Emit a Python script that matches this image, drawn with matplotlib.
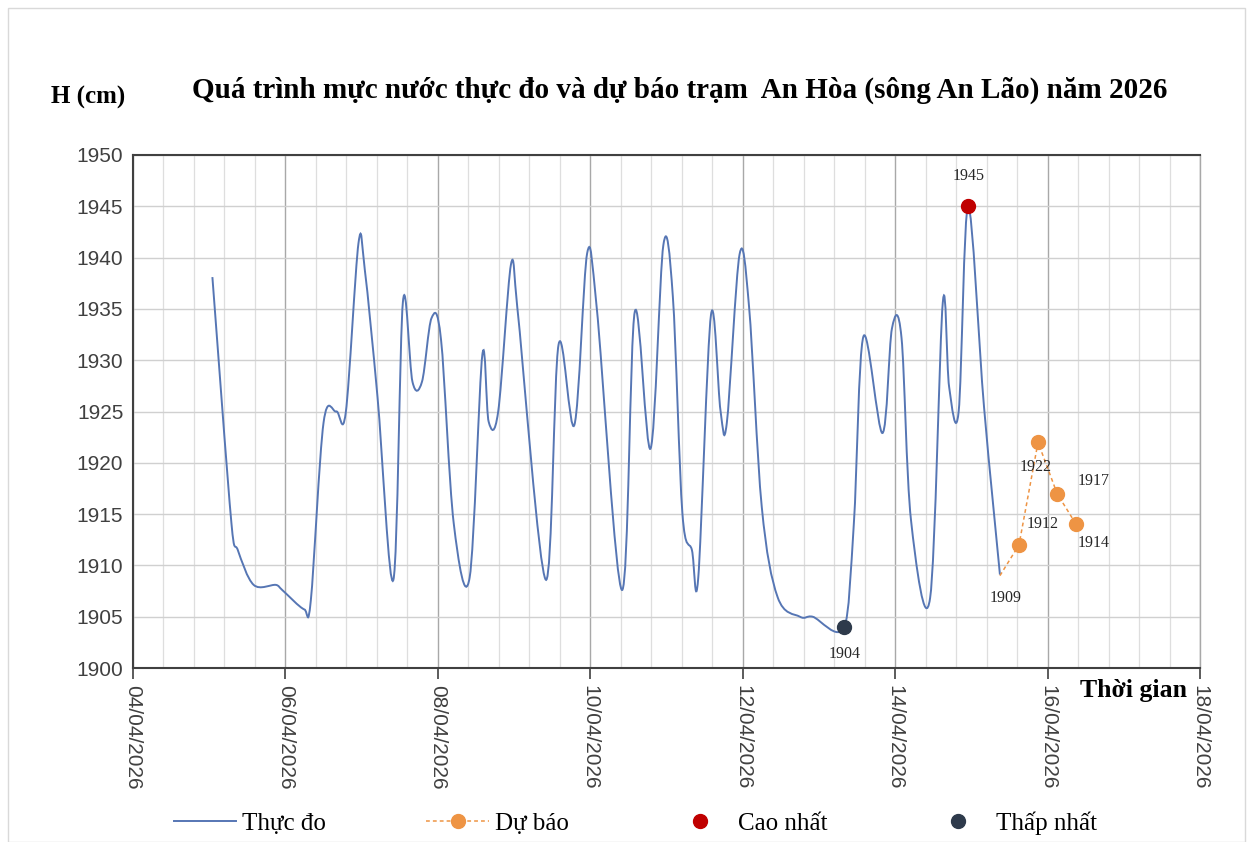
import matplotlib
matplotlib.use("Agg")
import matplotlib.pyplot as plt
import matplotlib.dates as mdates
from matplotlib.lines import Line2D
from matplotlib.path import Path
from matplotlib.patches import PathPatch, Rectangle
from matplotlib.ticker import FixedLocator, NullFormatter
import numpy as np
import pandas as pd

obs_time = [
    "2026-04-05 01:00", "2026-04-05 07:00", "2026-04-05 09:00", "2026-04-05 14:00",
    "2026-04-05 21:00", "2026-04-05 23:00", "2026-04-06 06:00", "2026-04-06 08:00",
    "2026-04-06 12:00", "2026-04-06 16:00", "2026-04-06 19:00", "2026-04-06 23:00",
    "2026-04-07 01:00", "2026-04-07 05:00", "2026-04-07 10:00", "2026-04-07 13:00",
    "2026-04-07 16:00", "2026-04-07 19:00", "2026-04-07 22:00", "2026-04-08 01:00",
    "2026-04-08 05:00", "2026-04-08 10:00", "2026-04-08 14:00", "2026-04-08 16:00",
    "2026-04-08 19:00", "2026-04-08 23:00", "2026-04-09 01:00", "2026-04-09 10:00",
    "2026-04-09 14:00", "2026-04-09 19:00", "2026-04-09 23:00", "2026-04-10 02:00",
    "2026-04-10 10:00", "2026-04-10 14:00", "2026-04-10 19:00", "2026-04-10 23:00",
    "2026-04-11 02:00", "2026-04-11 05:00", "2026-04-11 08:00", "2026-04-11 10:00",
    "2026-04-11 14:00", "2026-04-11 17:00", "2026-04-11 19:00", "2026-04-11 23:00",
    "2026-04-12 02:00", "2026-04-12 06:00", "2026-04-12 11:00", "2026-04-12 18:00",
    "2026-04-12 22:00", "2026-04-13 08:00", "2026-04-13 11:00", "2026-04-13 14:00",
    "2026-04-13 20:00", "2026-04-13 23:00", "2026-04-14 02:00", "2026-04-14 05:00",
    "2026-04-14 11:00", "2026-04-14 15:00", "2026-04-14 17:00", "2026-04-14 20:00",
    "2026-04-14 23:00", "2026-04-15 04:00", "2026-04-15 09:00",
]
obs_h = [
    1938.1, 1914.1, 1911.5, 1908.1,
    1908.1, 1907.6, 1905.7, 1906.6,
    1923.9, 1925.0, 1924.9, 1941.4,
    1938.8, 1926.4, 1908.6, 1935.7,
    1927.9, 1927.9, 1934.1, 1932.0,
    1914.1, 1908.8, 1930.5, 1924.0,
    1925.0, 1939.3, 1935.2, 1908.6,
    1931.5, 1923.7, 1940.4, 1935.2,
    1907.6, 1934.7, 1921.4, 1941.2,
    1936.2, 1915.1, 1911.5, 1908.8,
    1934.4, 1925.1, 1923.9, 1940.3,
    1935.2, 1915.7, 1906.9, 1905.0,
    1905.0, 1904.0, 1914.1, 1932.3,
    1922.9, 1933.1, 1932.2, 1914.4,
    1906.8, 1935.6, 1927.4, 1925.0,
    1945.0, 1925.4, 1909.1,
]

# forecast
fc_time = ["2026-04-15 09:00", "2026-04-15 15:00", "2026-04-15 21:00",
           "2026-04-16 03:00", "2026-04-16 09:00"]
fc_h = [1909, 1912, 1922, 1917, 1914]

xtick_dates = ["2026-04-04", "2026-04-06", "2026-04-08", "2026-04-10",
               "2026-04-12", "2026-04-14", "2026-04-16", "2026-04-18"]

t_obs = pd.to_datetime(obs_time)
t_fc = pd.to_datetime(fc_time)
h_obs = np.array(obs_h)

serif = ["Liberation Serif", "DejaVu Serif"]
sans = ["Liberation Sans", "DejaVu Sans"]
BLUE = "#5676b4"
ORANGE = "#ee9444"


def smooth_path(x, y):
    """Bezier path through the points, like a spreadsheet 'smoothed line'."""
    p = np.column_stack([x, y])
    n = len(p)
    verts = [p[0]]
    codes = [Path.MOVETO]
    for i in range(n - 1):
        p0 = p[max(i - 1, 0)]
        p1 = p[i]
        p2 = p[i + 1]
        p3 = p[min(i + 2, n - 1)]
        dx = p2[0] - p1[0]
        t1 = (p2 - p0) / 6.0
        t2 = (p3 - p1) / 6.0
        # keep control points inside the segment so time never runs backwards
        if t1[0] > dx / 2:
            t1 = t1 * (dx / 2) / t1[0]
        if t2[0] > dx / 2:
            t2 = t2 * (dx / 2) / t2[0]
        verts += [p1 + t1, p2 - t2, p2]
        codes += [Path.CURVE4] * 3
    return Path(verts, codes)


fig = plt.figure(figsize=(12.53, 8.42), dpi=100)
fig.patches.append(Rectangle((8 / 1253, 0.0), 1237 / 1253, 1 - 8 / 842,
                             transform=fig.transFigure, fill=False,
                             edgecolor="#d9d9d9", lw=1.0))
ax = fig.add_axes([133 / 1253, 1 - 668 / 842, (1200 - 133) / 1253, (668 - 155) / 842])

xo = mdates.date2num(t_obs)
ax.add_patch(PathPatch(smooth_path(xo, h_obs), facecolor="none", edgecolor=BLUE,
                       lw=1.4, zorder=3))
ax.plot(t_fc, fc_h, color=ORANGE, lw=1.1, ls=(0, (2.5, 2)), marker="o",
        markersize=10, markevery=[1, 2, 3, 4], markerfacecolor=ORANGE,
        markeredgecolor=ORANGE, zorder=3)

imax = int(np.argmax(h_obs))
imin = int(np.argmin(h_obs))
ax.plot(t_obs[imax], h_obs[imax], "o", color="#c00000", markersize=10, zorder=4)
ax.plot(t_obs[imin], h_obs[imin], "o", color="#2e3a4b", markersize=10, zorder=4)

lab_kw = dict(textcoords="offset pixels", ha="center", va="center",
              fontsize=11.5, family=serif, color="#262626")
ax.annotate(f"{h_obs[imax]:.0f}", (t_obs[imax], h_obs[imax]), xytext=(0, 30), **lab_kw)
ax.annotate(f"{h_obs[imin]:.0f}", (t_obs[imin], h_obs[imin]), xytext=(0, -27), **lab_kw)
fc_offsets = [(6, -22), (24, 21), (-2, -25), (37, 13), (17, -19)]
for t, v, off in zip(t_fc, fc_h, fc_offsets):
    ax.annotate(f"{v:.0f}", (t, v), xytext=off, **lab_kw)

# axes
x0 = mdates.date2num(pd.Timestamp(xtick_dates[0]))
x1 = mdates.date2num(pd.Timestamp(xtick_dates[-1]))
ax.set_xlim(x0, x1)
ax.set_ylim(1900, 1950)
ax.set_yticks(np.arange(1900, 1951, 5))
major = [mdates.date2num(pd.Timestamp(d)) for d in xtick_dates]
ax.xaxis.set_major_locator(FixedLocator(major))
ax.xaxis.set_minor_locator(FixedLocator(np.arange(x0, x1 + 1e-6, 0.4)))
ax.xaxis.set_major_formatter(mdates.DateFormatter("%d/%m/%Y"))
ax.xaxis.set_minor_formatter(NullFormatter())

ax.grid(True, axis="y", color="#d0d0d0", lw=1.0)
ax.grid(True, axis="x", which="major", color="#a8a8a8", lw=1.0)
ax.grid(True, axis="x", which="minor", color="#dedede", lw=0.9)
ax.set_axisbelow(True)

for lab in ax.get_xticklabels():
    lab.set_rotation(-90)
    lab.set_family(sans)
    lab.set_fontsize(15)
    lab.set_color("#404040")
for lab in ax.get_yticklabels():
    lab.set_family(sans)
    lab.set_fontsize(15)
    lab.set_color("#404040")
ax.tick_params(axis="x", which="major", length=8, width=1.2, color="#404040", pad=4)
ax.tick_params(axis="x", which="minor", length=0)
ax.tick_params(axis="y", length=0, pad=7)

for side in ["top", "bottom", "left"]:
    ax.spines[side].set_color("#404040")
    ax.spines[side].set_linewidth(1.5)
ax.spines["right"].set_color("#a8a8a8")
ax.spines["right"].set_linewidth(1.0)

fig.text(680 / 1253, 1 - 90 / 842,
         "Quá trình mực nước thực đo và dự báo trạm  An Hòa (sông An Lão) năm 2026",
         ha="center", va="center", fontsize=21, fontweight="bold", family=serif)
fig.text(88 / 1253, 1 - 97 / 842, "H (cm)", ha="center", va="center",
         fontsize=18, fontweight="bold", family=serif)
fig.text(1134 / 1253, 1 - 690 / 842, "Thời gian", ha="center", va="center",
         fontsize=18.5, fontweight="bold", family=serif)

handles = [
    Line2D([], [], color=BLUE, lw=1.4),
    Line2D([], [], color=ORANGE, lw=1.1, ls=(0, (2.5, 2)), marker="o",
           markersize=10, markerfacecolor=ORANGE, markeredgecolor=ORANGE),
    Line2D([], [], color="#c00000", ls="none", marker="o", markersize=10),
    Line2D([], [], color="#2e3a4b", ls="none", marker="o", markersize=10),
]
labels = ["Thực đo", "Dự báo", "Cao nhất", "Thấp nhất"]
fig.legend(handles, labels, loc="center", bbox_to_anchor=(0.507, 1 - 823 / 842),
           ncol=4, frameon=False, prop={"family": serif, "size": 18},
           handlelength=2.5, handletextpad=0.25, columnspacing=4.0)

fig.savefig("out.png", dpi=100)
